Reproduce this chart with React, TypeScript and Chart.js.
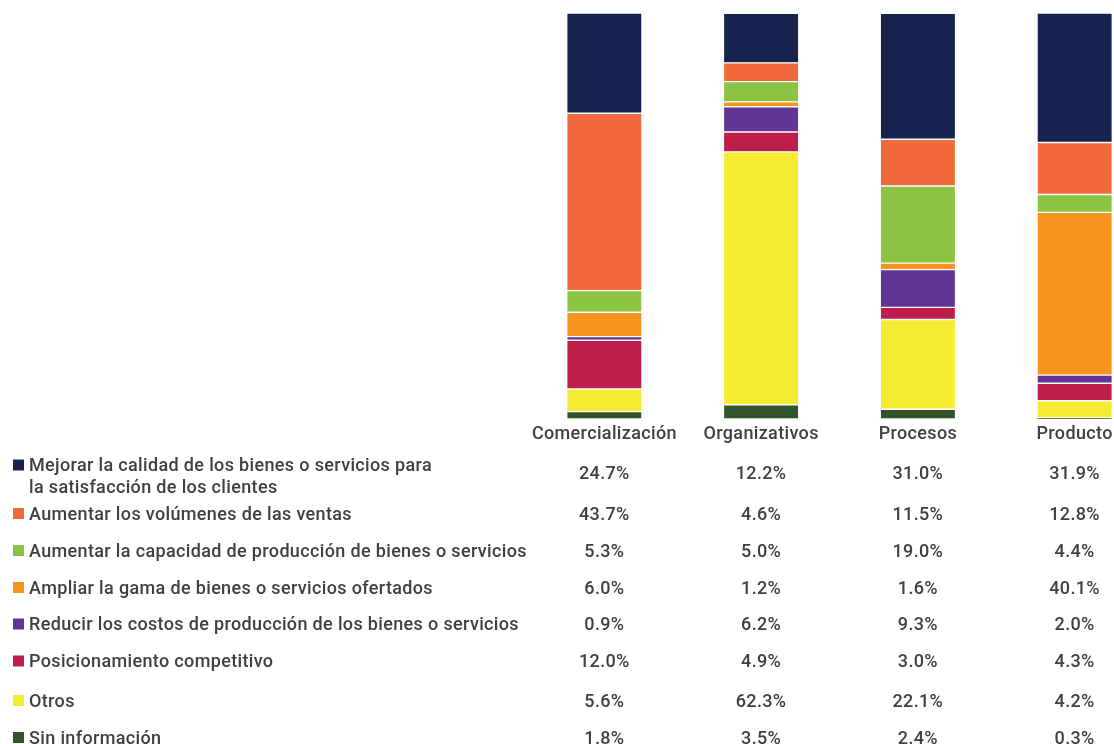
import React, { useEffect, useRef } from "react";
import { Chart, registerables } from "chart.js";

Chart.register(...registerables);

const categories = ["Comercialización", "Organizativos", "Procesos", "Producto"];

const seriesLabels: string[][] = [
  ["Mejorar la calidad de los bienes o servicios para", "la satisfacción de los clientes"],
  ["Aumentar los volúmenes de las ventas"],
  ["Aumentar la capacidad de producción de bienes o servicios"],
  ["Ampliar la gama de bienes o servicios ofertados"],
  ["Reducir los costos de producción de los bienes o servicios"],
  ["Posicionamiento competitivo"],
  ["Otros"],
  ["Sin información"],
];

const mejorarCalidad = [24.7, 12.2, 31.0, 31.9];
const aumentarVentas = [43.7, 4.6, 11.5, 12.8];
const aumentarCapacidad = [5.3, 5.0, 19.0, 4.4];
const ampliarGama = [6.0, 1.2, 1.6, 40.1];
const reducirCostos = [0.9, 6.2, 9.3, 2.0];
const posicionamiento = [12.0, 4.9, 3.0, 4.3];
const otros = [5.6, 62.3, 22.1, 4.2];
const sinInformacion = [1.8, 3.5, 2.4, 0.3];

const seriesValues = [
  mejorarCalidad,
  aumentarVentas,
  aumentarCapacidad,
  ampliarGama,
  reducirCostos,
  posicionamiento,
  otros,
  sinInformacion,
];

const seriesColors = [
  "#18224E",
  "#F26A3C",
  "#8BC443",
  "#F7941E",
  "#623595",
  "#BE1E4A",
  "#F6EB33",
  "#33542A",
];

const TEXT_COLOR = "#404040";
const FONT_FAMILY = "Roboto, 'Noto Sans', sans-serif";
const FONT_SIZE = 18;
const FONT_WEIGHT = "500";
const LETTER_SPACING = "0.35px";
// vertical centres of the table rows (layout only)
const rowCenters = [465, 513.5, 550.5, 587.5, 624, 661, 700.5, 737.5];
const rowValueCenters = [473, 513.5, 550.5, 587.5, 624, 661, 700.5, 737.5];
const lineGap = 22;
const textOffset = 1.5;

const spacingPlugin = {
  id: "letterSpacing",
  beforeDraw(chart: any) {
    (chart.ctx as any).letterSpacing = LETTER_SPACING;
  },
};

const tablePlugin = {
  id: "dataTable",
  afterDraw(chart: any) {
    const ctx = chart.ctx as CanvasRenderingContext2D;
    const xScale = chart.scales.x;
    ctx.save();
    (ctx as any).letterSpacing = LETTER_SPACING;
    ctx.font = `${FONT_WEIGHT} ${FONT_SIZE}px ${FONT_FAMILY}`;
    ctx.fillStyle = TEXT_COLOR;
    ctx.textBaseline = "middle";
    seriesLabels.forEach((lines, r) => {
      const y = rowCenters[r];
      ctx.fillStyle = seriesColors[r];
      ctx.fillRect(13, y - 5.5, 11, 11);
      ctx.fillStyle = TEXT_COLOR;
      ctx.textAlign = "left";
      lines.forEach((line, li) => {
        ctx.fillText(line, 29, y + textOffset + li * lineGap);
      });
      ctx.textAlign = "center";
      seriesValues[r].forEach((v, c) => {
        const x = xScale.getPixelForValue(c);
        ctx.fillText(`${v.toFixed(1)}%`, x, rowValueCenters[r] + textOffset);
      });
    });
    ctx.restore();
  },
};

export default function App() {
  const canvasRef = useRef<HTMLCanvasElement | null>(null);

  useEffect(() => {
    if (!canvasRef.current) return;
    // datasets: first one is drawn at the bottom of the stack
    const datasets = seriesValues
      .map((vals, i) => ({
        label: seriesLabels[i].join(" "),
        data: vals,
        backgroundColor: seriesColors[i],
        borderColor: "#ffffff",
        borderWidth: { top: 1, bottom: 1, left: 0, right: 0 },
        borderSkipped: false,
        barThickness: 74,
      }))
      .reverse();

    const chart = new Chart(canvasRef.current, {
      type: "bar",
      data: { labels: categories, datasets },
      options: {
        animation: false,
        responsive: false,
        maintainAspectRatio: false,
        devicePixelRatio: 1,
        layout: { padding: { left: 526, right: 1, top: 13, bottom: 293.4 } },
        plugins: {
          legend: { display: false },
          tooltip: { enabled: false },
        },
        scales: {
          x: {
            stacked: true,
            grid: { display: false, drawTicks: false },
            border: { display: false },
            ticks: {
              padding: 5,
              color: TEXT_COLOR,
              font: { family: FONT_FAMILY, size: FONT_SIZE, weight: FONT_WEIGHT },
              autoSkip: false,
              maxRotation: 0,
            },
          },
          y: {
            stacked: true,
            display: false,
            min: 0,
            max: 100,
          },
        },
      },
      plugins: [spacingPlugin, tablePlugin],
    } as any);
    return () => chart.destroy();
  }, []);

  return (
    <div
      style={{
        position: "absolute",
        left: 0,
        top: 0,
        width: 1114,
        height: 744,
        overflow: "hidden",
        background: "#ffffff",
      }}
    >
      <canvas ref={canvasRef} width={1154} height={744} style={{ display: "block" }} />
    </div>
  );
}
